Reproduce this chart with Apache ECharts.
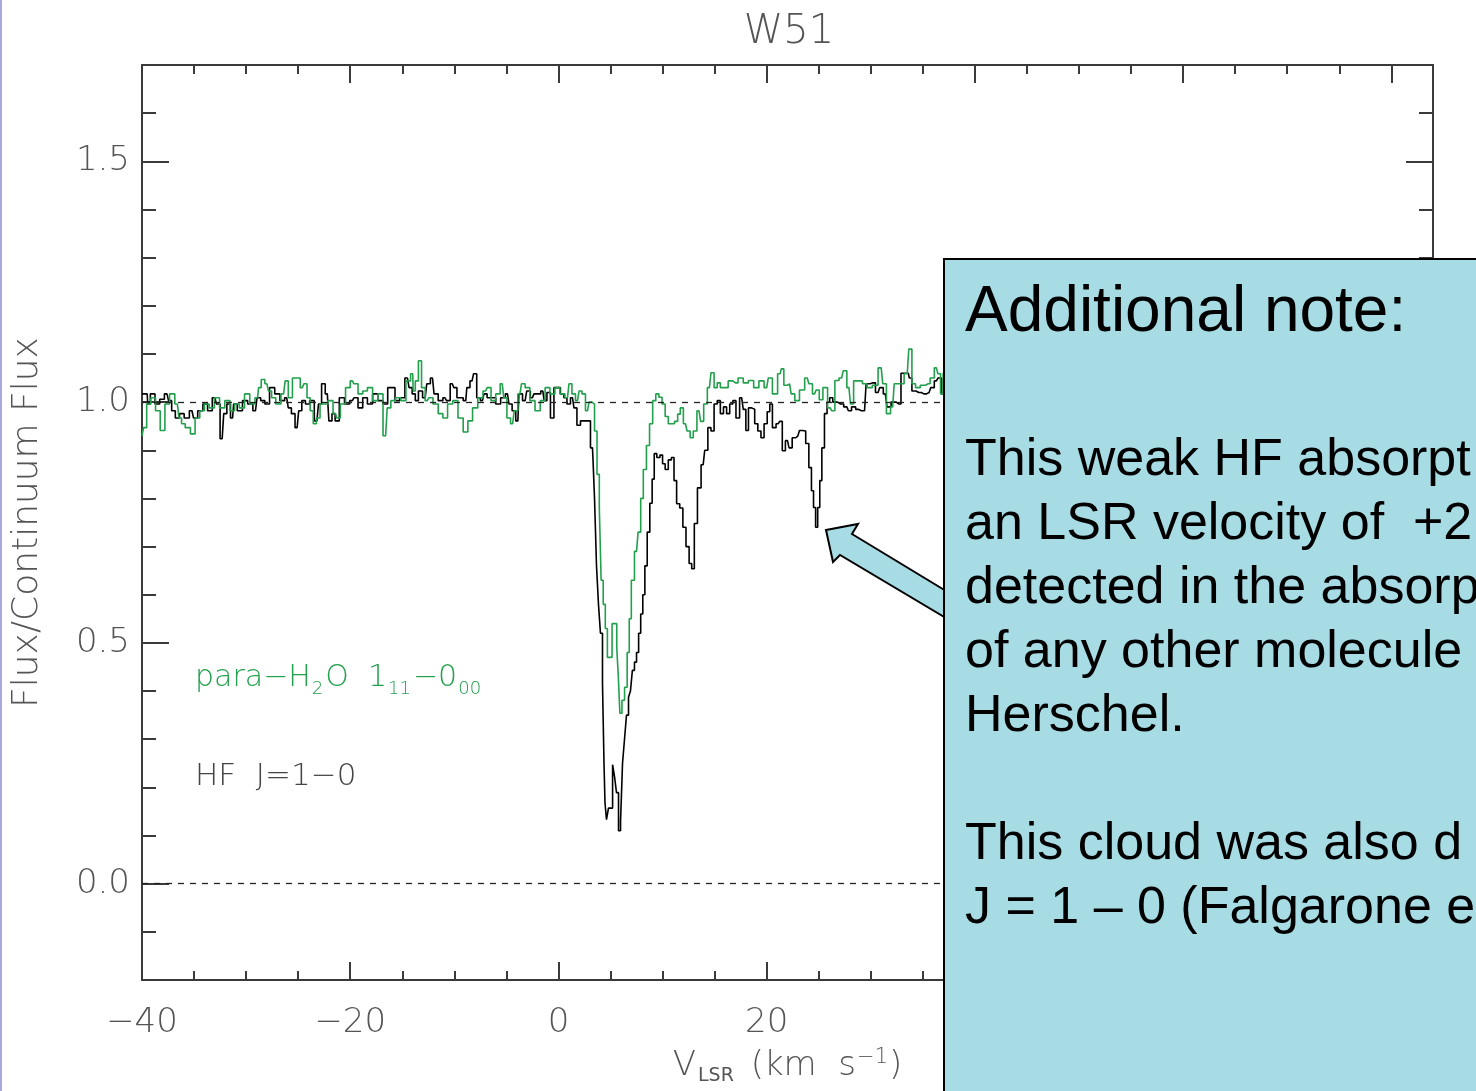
<!DOCTYPE html>
<html>
<head>
<meta charset="utf-8">
<title>W51</title>
<script src="https://cdn.jsdelivr.net/npm/echarts@6/dist/echarts.min.js"></script>
<style>
  html, body { margin: 0; padding: 0; background: #ffffff; }
  #chart { width: 1476px; height: 1091px; }
</style>
</head>
<body>
<div id="chart"></div>
<script>
// HF J=1-0 spectrum: [LSR velocity (km/s), flux / continuum]
const hfSpectrum = [
  [-40.0,1.017],[-39.5,1.017],[-39.4,0.996],[-39.0,1.017],[-38.5,0.996],[-38.1,1.006],[-37.6,1.017],
  [-37.3,1.003],[-37.0,0.982],[-36.6,0.967],[-36.2,0.976],[-35.7,0.967],[-35.2,0.982],[-34.9,0.967],
  [-34.4,0.982],[-33.9,0.996],[-33.5,0.982],[-33.0,1.009],[-32.7,0.996],[-32.3,0.924],[-32.0,0.976],
  [-31.7,0.996],[-31.3,0.967],[-31.1,0.996],[-30.6,0.982],[-30.1,1.003],[-29.6,0.996],[-29.1,0.982],
  [-28.8,1.009],[-28.4,1.003],[-28.0,0.996],[-27.5,1.030],[-27.0,1.017],[-26.5,1.003],[-26.1,1.009],
  [-25.8,0.988],[-25.5,0.976],[-25.1,0.947],[-24.8,0.982],[-24.5,1.003],[-24.1,0.996],[-23.7,1.003],
  [-23.2,0.961],[-22.9,0.996],[-22.6,1.038],[-22.2,1.017],[-21.9,0.961],[-21.6,0.976],[-21.3,0.961],
  [-20.8,1.009],[-20.3,0.996],[-19.8,1.003],[-19.5,1.009],[-19.0,0.988],[-18.6,1.009],[-18.1,0.996],
  [-17.6,1.017],[-17.1,1.003],[-16.6,0.996],[-16.2,1.030],[-15.9,1.030],[-15.5,1.003],[-15.0,1.009],
  [-14.5,1.050],[-14.2,1.030],[-13.9,1.017],[-13.6,1.003],[-13.3,1.023],[-12.8,1.009],[-12.5,1.038],
  [-12.1,1.050],[-11.8,1.017],[-11.3,1.003],[-10.9,1.009],[-10.6,1.003],[-10.2,1.038],[-9.9,1.030],
  [-9.6,1.009],[-9.4,1.009],[-8.9,1.003],[-8.7,1.030],[-8.3,1.044],[-8.0,1.059],[-7.7,1.009],
  [-7.3,1.003],[-7.0,1.017],[-6.7,1.009],[-6.25,1.009],[-5.8,0.996],[-5.3,1.009],[-4.9,1.017],
  [-4.6,0.996],[-4.3,0.982],[-3.9,0.961],[-3.7,1.017],[-3.2,1.003],[-2.9,1.023],[-2.5,1.009],
  [-2.2,1.017],[-1.9,1.017],[-1.5,1.023],[-1.25,1.003],[-0.96,1.020],[-0.58,0.967],[-0.29,1.030],
  [0.0,1.030],[0.38,1.017],[0.67,1.009],[0.96,0.996],[1.35,1.009],[1.63,0.988],[1.92,0.952],
  [2.31,0.961],[2.60,0.961],[2.88,0.961],[3.27,0.905],[3.37,0.880],[3.56,0.800],[3.75,0.660],
  [3.94,0.580],[4.13,0.520],[4.33,0.416],[4.42,0.250],[4.52,0.168],[4.71,0.133],[4.90,0.157],
  [5.10,0.157],[5.30,0.247],[5.48,0.222],[5.67,0.189],[5.87,0.110],[6.06,0.130],[6.25,0.250],
  [6.44,0.300],[6.63,0.350],[6.83,0.387],[7.0,0.400],[7.2,0.443],[7.4,0.460],[7.6,0.480],
  [7.8,0.520],[8.0,0.560],[8.2,0.600],[8.4,0.660],[8.65,0.730],[8.9,0.790],[9.1,0.840],
  [9.3,0.893],[9.6,0.885],[9.9,0.890],[10.1,0.872],[10.4,0.860],[10.7,0.880],[11.0,0.885],
  [11.2,0.837],[11.5,0.789],[11.8,0.780],[12.1,0.740],[12.4,0.700],[12.7,0.665],[12.9,0.654],
  [13.2,0.748],[13.5,0.822],[13.9,0.870],[14.2,0.900],[14.5,0.947],[14.8,0.940],[15.1,0.996],
  [15.4,1.003],[15.7,0.976],[16.0,0.990],[16.3,0.976],[16.6,0.996],[16.9,1.003],[17.2,0.967],
  [17.6,1.009],[17.9,0.985],[18.1,0.941],[18.4,0.988],[18.7,0.985],[19.0,0.955],[19.3,0.940],
  [19.6,0.926],[19.9,0.955],[20.2,0.980],[20.4,0.996],[20.7,0.947],[21.1,0.955],[21.4,0.960],
  [21.6,0.899],[22.0,0.920],[22.3,0.905],[22.6,0.926],[23.0,0.930],[23.3,0.941],[23.6,0.940],
  [23.9,0.914],[24.2,0.864],[24.4,0.816],[24.6,0.781],[24.8,0.740],[25.0,0.781],[25.2,0.837],
  [25.4,0.905],[25.7,0.976],[25.9,1.000],[26.2,1.009],[26.5,1.000],[27.1,0.996],[27.7,0.990],
  [28.0,0.982],[28.3,0.990],[28.8,0.985],[29.1,0.982],[29.4,0.982],[29.7,1.038],[30.2,1.040],
  [30.7,1.020],[31.0,1.030],[31.4,1.017],[31.7,0.990],[32.2,1.000],[32.7,0.996],[33.1,1.060],
  [33.6,1.060],[33.8,1.050],[34.1,1.023],[34.6,1.020],[35.1,1.017],[35.6,1.020],[35.9,1.030],
  [36.3,1.044],[36.6,1.050],[37.0,1.017],[37.5,1.010]
];

// para-H2O 1(11)-0(00) spectrum: [LSR velocity (km/s), flux / continuum]
const h2oSpectrum = [
  [-40.0,0.930],[-39.7,0.947],[-39.4,0.996],[-38.9,1.009],[-38.5,0.982],[-38.0,0.941],[-37.6,0.996],
  [-37.1,1.017],[-36.6,0.996],[-36.3,0.967],[-36.1,0.955],[-35.6,0.947],[-35.1,0.934],[-34.7,0.967],
  [-34.2,0.982],[-33.8,0.996],[-33.3,0.988],[-32.8,1.009],[-32.3,0.988],[-31.8,1.003],[-31.3,0.982],
  [-30.9,0.996],[-30.4,0.988],[-29.9,1.017],[-29.4,0.996],[-28.9,1.009],[-28.7,1.030],[-28.4,1.047],
  [-28.0,1.038],[-27.7,1.023],[-27.4,1.009],[-26.9,0.996],[-26.4,1.017],[-26.1,1.044],[-25.8,1.009],
  [-25.3,1.050],[-25.0,1.050],[-24.6,1.030],[-24.3,1.038],[-24.0,1.009],[-23.7,0.982],[-23.4,0.955],
  [-23.1,0.967],[-22.7,0.996],[-22.4,0.996],[-21.9,1.003],[-21.4,0.976],[-21.2,0.967],[-20.7,0.996],
  [-20.2,1.030],[-19.8,1.044],[-19.5,1.038],[-19.0,1.017],[-18.6,1.023],[-18.1,1.030],[-17.6,1.003],
  [-17.1,1.017],[-16.6,0.930],[-16.3,0.988],[-15.9,1.003],[-15.4,1.009],[-14.9,1.003],[-14.4,1.044],
  [-14.0,1.059],[-13.9,1.023],[-13.6,1.044],[-13.3,1.086],[-13.0,1.030],[-12.6,1.003],[-12.3,1.009],
  [-11.8,0.996],[-11.3,0.976],[-10.9,0.967],[-10.4,0.996],[-9.9,1.003],[-9.4,0.967],[-8.9,0.938],
  [-8.5,0.961],[-8.0,0.988],[-7.5,1.009],[-7.0,1.023],[-6.7,1.030],[-6.25,1.003],[-5.8,1.017],
  [-5.4,1.038],[-5.1,1.009],[-4.8,0.967],[-4.4,0.955],[-4.1,0.982],[-3.7,1.017],[-3.4,1.038],
  [-3.0,1.030],[-2.5,1.003],[-2.0,0.982],[-1.5,1.003],[-1.06,1.030],[-0.58,1.017],[-0.1,1.030],
  [0.38,1.017],[0.87,1.009],[1.15,1.038],[1.44,1.017],[1.83,1.003],[2.12,1.023],[2.40,1.017],
  [2.79,0.982],[3.08,1.000],[3.37,0.996],[3.56,0.940],[3.85,0.850],[4.0,0.780],[4.2,0.630],
  [4.4,0.580],[4.6,0.530],[4.8,0.470],[5.0,0.470],[5.3,0.540],[5.5,0.540],[5.7,0.490],
  [5.8,0.430],[6.0,0.354],[6.2,0.381],[6.5,0.408],[6.7,0.480],[6.9,0.550],[7.1,0.630],
  [7.5,0.690],[7.8,0.730],[8.0,0.800],[8.3,0.860],[8.6,0.910],[8.9,0.955],[9.2,1.003],
  [9.5,1.017],[9.8,1.010],[10.1,0.996],[10.4,0.970],[10.7,0.955],[11.0,0.955],[11.3,0.960],
  [11.6,0.975],[11.8,0.988],[12.2,0.955],[12.5,0.940],[12.8,0.926],[13.1,0.940],[13.5,0.982],
  [13.8,0.960],[14.1,0.996],[14.5,1.030],[14.8,1.061],[15.1,1.030],[15.4,1.040],[15.7,1.030],
  [16.1,1.030],[16.5,1.044],[17.0,1.040],[17.5,1.050],[18.0,1.040],[18.5,1.045],[19.0,1.030],
  [19.5,1.044],[20.0,1.030],[20.3,1.050],[20.8,1.017],[21.3,1.059],[21.5,1.069],[21.8,1.035],
  [22.2,1.038],[22.5,1.017],[22.9,1.003],[23.4,1.025],[23.9,1.050],[24.2,1.038],[24.6,1.017],
  [24.9,1.025],[25.2,1.005],[25.6,1.030],[26.1,0.988],[26.4,0.982],[26.7,1.045],[27.2,1.050],
  [27.5,1.065],[27.9,1.030],[28.2,0.996],[28.5,1.044],[29.0,1.044],[29.4,1.038],[29.9,1.030],
  [30.4,1.035],[31.0,1.071],[31.3,1.038],[31.7,0.976],[32.1,0.990],[32.4,1.038],[32.9,1.038],
  [33.5,1.059],[33.8,1.110],[34.1,1.038],[34.5,1.030],[35.0,1.035],[35.5,1.038],[35.9,1.050],
  [36.3,1.071],[36.6,1.059],[36.8,1.017],[37.1,1.060],[37.5,1.040]
];

// Axis tick positions
const xMajorTicks = [-40, -20, 0, 20, 40, 60, 80];
const xMinorTicks = [-35, -30, -25, -15, -10, -5, 5, 10, 15, 25, 30, 35, 45, 50, 55, 65, 70, 75];
const yMajorTicks = [0.0, 0.5, 1.0, 1.5];
const yMinorTicks = [-0.1, 0.1, 0.2, 0.3, 0.4, 0.6, 0.7, 0.8, 0.9, 1.1, 1.2, 1.3, 1.4, 1.6];
const referenceLevels = [1.0, 0.0];

const noteLines = [
  'This weak HF absorpt',
  'an LSR velocity of  +2',
  'detected in the absorp',
  'of any other molecule',
  'Herschel.',
  '',
  'This cloud was also d',
  'J = 1 \u2013 0 (Falgarone e'
];

const AXIS_COLOR = '#3a3a3a';
const LABEL_COLOR = '#555555';
const LABEL_FONT = 'DejaVu Sans';
const LABEL_WEIGHT = 200;
const GREEN = '#22a04c';

function minusSign(v) { return String(v).replace('-', '\u2212'); }

function makeXAxis(pos, major) {
  return {
    type: 'value', min: -40, max: 84, position: pos,
    axisLine: { show: major, onZero: false, lineStyle: { color: AXIS_COLOR, width: 2 } },
    axisTick: { show: true, inside: true, length: major ? 18 : 9,
      customValues: major ? xMajorTicks : xMinorTicks,
      lineStyle: { color: AXIS_COLOR, width: 2 } },
    axisLabel: { show: major && pos === 'bottom', customValues: xMajorTicks,
      formatter: minusSign, fontFamily: LABEL_FONT, fontWeight: LABEL_WEIGHT,
      fontSize: 34, color: LABEL_COLOR, margin: 26 },
    splitLine: { show: false }
  };
}

function makeYAxis(pos, major) {
  return {
    type: 'value', min: -0.2, max: 1.7, position: pos,
    axisLine: { show: major, onZero: false, lineStyle: { color: AXIS_COLOR, width: 2 } },
    axisTick: { show: true, inside: true, length: major ? 27 : 14,
      customValues: major ? yMajorTicks : yMinorTicks,
      lineStyle: { color: AXIS_COLOR, width: 2 } },
    axisLabel: { show: major && pos === 'left', customValues: yMajorTicks,
      formatter: v => v.toFixed(1), fontFamily: LABEL_FONT, fontWeight: LABEL_WEIGHT,
      fontSize: 34, color: LABEL_COLOR, margin: 12 },
    splitLine: { show: false }
  };
}

const xAxes = [makeXAxis('bottom', true), makeXAxis('bottom', false), makeXAxis('top', true), makeXAxis('top', false)];
Object.assign(xAxes[0], {
  name: '{v|V}{sub|LSR}{n| (km  s}{sup|\u22121}{n|)}',
  nameLocation: 'middle', nameGap: 66,
  nameTextStyle: {
    color: LABEL_COLOR, fontFamily: LABEL_FONT, fontWeight: LABEL_WEIGHT,
    rich: {
      v: { fontSize: 34, fontFamily: LABEL_FONT, fontWeight: LABEL_WEIGHT, color: LABEL_COLOR, lineHeight: 40, verticalAlign: 'middle' },
      n: { fontSize: 34, fontFamily: LABEL_FONT, fontWeight: LABEL_WEIGHT, color: LABEL_COLOR, lineHeight: 40, verticalAlign: 'middle' },
      sub: { fontSize: 19, fontFamily: LABEL_FONT, fontWeight: 'normal', color: LABEL_COLOR, lineHeight: 32, verticalAlign: 'bottom', padding: [0, 6, 0, 2] },
      sup: { fontSize: 21, fontFamily: LABEL_FONT, fontWeight: LABEL_WEIGHT, color: LABEL_COLOR, lineHeight: 40, verticalAlign: 'top', padding: [1, 1, 0, 1] }
    }
  }
});

const yAxes = [makeYAxis('left', true), makeYAxis('left', false), makeYAxis('right', true), makeYAxis('right', false)];
Object.assign(yAxes[0], {
  name: 'Flux/Continuum Flux', nameLocation: 'middle', nameRotate: 90, nameGap: 96,
  nameTextStyle: { color: LABEL_COLOR, fontFamily: LABEL_FONT, fontWeight: LABEL_WEIGHT, fontSize: 36 }
});

const chart = echarts.init(document.getElementById('chart'), null, { renderer: 'canvas' });

const labelStyleBase = { fontFamily: LABEL_FONT, fontWeight: LABEL_WEIGHT };

chart.setOption({
  animation: false,
  backgroundColor: '#ffffff',
  title: {
    text: 'W51', left: 784, top: 8, textAlign: 'center',
    textStyle: { fontFamily: LABEL_FONT, fontWeight: LABEL_WEIGHT, fontSize: 40, color: LABEL_COLOR }
  },
  grid: { left: 142, right: 43, top: 65, bottom: 111, containLabel: false, outerBoundsMode: 'none' },
  xAxis: xAxes,
  yAxis: yAxes,
  series: [
    {
      name: 'HF J=1-0', type: 'line', step: 'middle', data: hfSpectrum,
      xAxisIndex: 0, yAxisIndex: 0, showSymbol: false, symbol: 'none', z: 3,
      lineStyle: { color: '#000000', width: 1.6 },
      markLine: {
        silent: true, symbol: ['none', 'none'], label: { show: false },
        lineStyle: { color: '#222222', width: 1.3, type: [6, 6] },
        data: referenceLevels.map(v => ({ yAxis: v }))
      }
    },
    {
      name: 'para-H2O 1_11-0_00', type: 'line', step: 'middle', data: h2oSpectrum,
      xAxisIndex: 0, yAxisIndex: 0, showSymbol: false, symbol: 'none', z: 4,
      lineStyle: { color: GREEN, width: 1.6 }
    }
  ],
  graphic: [
    { type: 'rect', left: 0, top: 0, z: 1, shape: { width: 2, height: 1091 }, style: { fill: '#a9a9de' } },
    {
      type: 'text', left: 195, top: 663, z: 10,
      style: {
        text: '{a|para\u2212H}{s|2}{a|O  1}{s|11}{a|\u22120}{s|00}',
        rich: {
          a: Object.assign({ fontSize: 30, fill: GREEN, lineHeight: 40, verticalAlign: 'middle' }, labelStyleBase),
          s: Object.assign({ fontSize: 18, fill: GREEN, lineHeight: 30, verticalAlign: 'bottom', padding: [0, 2, 0, 1] }, labelStyleBase)
        }
      }
    },
    {
      type: 'text', left: 195, top: 757, z: 10,
      style: {
        text: 'HF  J=1\u22120',
        fontSize: 31, fill: '#444444', lineHeight: 40, fontFamily: LABEL_FONT, fontWeight: LABEL_WEIGHT
      }
    },
    {
      type: 'polygon', z: 20,
      shape: { points: [[826, 530], [858, 524], [852, 534], [946, 591], [946, 618], [840, 555], [833, 562]] },
      style: { fill: '#a8dce5', stroke: '#000000', lineWidth: 2, lineJoin: 'miter' }
    },
    {
      type: 'rect', z: 21,
      shape: { x: 944, y: 259, width: 600, height: 900 },
      style: { fill: '#a8dce5', stroke: '#000000', lineWidth: 2 }
    },
    {
      type: 'text', z: 22, x: 965, y: 313,
      style: { text: 'Additional note:', fontFamily: 'Liberation Sans', fontSize: 64, fill: '#000000', verticalAlign: 'middle' }
    },
    ...noteLines.map((line, i) => ({
      type: 'text', z: 22, x: 965, y: 461 + i * 64,
      style: { text: line, fontFamily: 'Liberation Sans', fontSize: 52, fill: '#000000', verticalAlign: 'middle' }
    }))
  ]
});
</script>
</body>
</html>
